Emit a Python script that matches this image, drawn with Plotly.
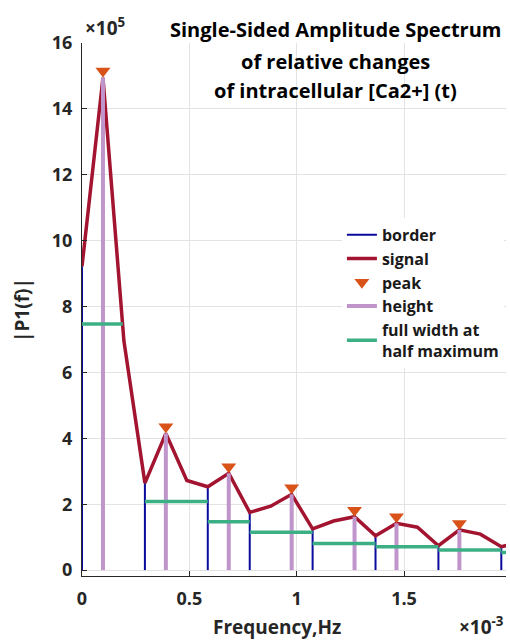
import plotly.graph_objects as go

# ---------------- data ----------------
# frequency bins (units of 1e-3 Hz)
freq = [0.0, 0.0977, 0.1953, 0.2930, 0.3906, 0.4883, 0.5859, 0.6836, 0.7813,
        0.8789, 0.9766, 1.0742, 1.1719, 1.2695, 1.3672, 1.4648, 1.5625,
        1.6602, 1.7578, 1.8555, 1.9531, 2.0508]
# single-sided amplitude |P1(f)| (units of 1e5)
signal = [9.22, 14.95, 6.95, 2.64, 4.15, 2.72, 2.53, 2.94, 1.75, 1.94, 2.30,
          1.25, 1.49, 1.62, 1.04, 1.42, 1.30, 0.74, 1.22, 1.09, 0.71, 0.85]
border_idx = [0, 3, 6, 8, 11, 14, 17, 20]
peak_idx = [1, 4, 7, 10, 13, 15, 18]
fwhm_left = [0.0, 0.2930, 0.5859, 0.7813, 1.0742, 1.3672, 1.6602, 1.9531]
fwhm_right = [0.19, 0.5859, 0.7813, 1.0742, 1.3672, 1.6602, 1.9531, 2.25]
fwhm_level = [7.47, 2.08, 1.47, 1.15, 0.81, 0.71, 0.61, 0.53]

x_range = [0, 1.975]
y_range = [-0.18, 16]

# ---------------- layout geometry ----------------
W, H = 510, 641
M_L, M_R, M_T, M_B = 82, 4, 43, 65
plot_h = H - M_T - M_B
px_per_unit = plot_h / (y_range[1] - y_range[0])

FONT = "'Open Sans', Lato, sans-serif"
C_BORDER = "#0a0a9c"
C_SIGNAL = "#a2142f"
C_PEAK = "#d95319"
C_HEIGHT = "#c095cc"
C_FWHM = "#3caf85"
C_TXT = "#262626"

def segs(xs0, xs1, ys0, ys1):
    X, Y = [], []
    for a, b, c, d in zip(xs0, xs1, ys0, ys1):
        X += [a, b, None]
        Y += [c, d, None]
    return X, Y

fig = go.Figure()

# border lines
bx = [freq[i] for i in border_idx]
by = [signal[i] for i in border_idx]
X, Y = segs(bx, bx, [0] * len(bx), by)
fig.add_trace(go.Scatter(x=X, y=Y, mode="lines", name="border",
                         line=dict(color=C_BORDER, width=2)))

# signal
fig.add_trace(go.Scatter(x=freq, y=signal, mode="lines", name="signal",
                         line=dict(color=C_SIGNAL, width=3.5)))

# peaks (triangle tip touching the peak)
px_ = [freq[i] for i in peak_idx]
py_ = [signal[i] for i in peak_idx]
msize = 13
off = (msize / 2) / px_per_unit
fig.add_trace(go.Scatter(x=px_, y=[v + off for v in py_], mode="markers", name="peak",
                         marker=dict(symbol="triangle-down", size=msize, color=C_PEAK,
                                     line=dict(width=0))))

# heights
X, Y = segs(px_, px_, [0] * len(px_), py_)
fig.add_trace(go.Scatter(x=X, y=Y, mode="lines", name="height",
                         line=dict(color=C_HEIGHT, width=4)))

# FWHM
X, Y = segs(fwhm_left, fwhm_right, fwhm_level, fwhm_level)
fig.add_trace(go.Scatter(x=X, y=Y, mode="lines", name="full width at<br>half maximum",
                         line=dict(color=C_FWHM, width=3.5)))

axis_common = dict(
    showgrid=True, gridcolor="#e3e3e3", gridwidth=1,
    zeroline=False, showline=True, linecolor=C_TXT, linewidth=1,
    ticks="inside", ticklen=5, tickcolor=C_TXT,
    tickfont=dict(family=FONT, size=18, color=C_TXT, weight="bold"),
    mirror=False,
)

fig.update_layout(
    width=W, height=H,
    margin=dict(l=M_L, r=M_R, t=M_T, b=M_B),
    paper_bgcolor="white", plot_bgcolor="white",
    font=dict(family=FONT, color="#1a1a1a"),
    xaxis=dict(range=x_range, tickvals=[0, 0.5, 1, 1.5], ticktext=["0", "0.5", "1", "1.5"],
               ticklabelstandoff=6, **axis_common),
    yaxis=dict(range=y_range, tickvals=list(range(0, 17, 2)), ticklabelstandoff=5,
               **axis_common),
    legend=dict(x=0.613, y=0.672, xanchor="left", yanchor="top",
                bgcolor="white", borderwidth=0,
                font=dict(family=FONT, size=16, color="#1a1a1a", weight="bold"),
                itemwidth=30, tracegroupgap=0),
    showlegend=True,
)

title_lines = ["Single-Sided Amplitude Spectrum", "of relative changes",
               "of intracellular [Ca2+] (t)"]
title_y = [1.025, 0.965, 0.911]
for t, yy in zip(title_lines, title_y):
    fig.add_annotation(text=t, xref="paper", yref="paper", x=0.599, y=yy,
                       xanchor="center", yanchor="middle", showarrow=False,
                       font=dict(family=FONT, size=20, color="black", weight="bold"))

fig.add_annotation(text="Frequency,Hz", xref="paper", yref="paper", x=0.461, y=-0.0965,
                   xanchor="center", yanchor="middle", showarrow=False,
                   font=dict(family=FONT, size=19, color=C_TXT, weight="bold"))
fig.add_annotation(text="|P1(f)|", xref="paper", yref="paper", x=-0.1415, y=0.499,
                   xanchor="center", yanchor="middle", showarrow=False, textangle=-90,
                   font=dict(family=FONT, size=19, color=C_TXT, weight="bold"))
fig.add_annotation(text="×10<sup>5</sup>", xref="paper", yref="paper", x=0.003, y=1.0,
                   xanchor="left", yanchor="bottom", showarrow=False,
                   font=dict(family=FONT, size=19, color=C_TXT, weight="bold"))
fig.add_annotation(text="×10<sup>-3</sup>", xref="paper", yref="paper", x=1.0, y=-0.1235,
                   xanchor="right", yanchor="bottom", showarrow=False,
                   font=dict(family=FONT, size=19, color=C_TXT, weight="bold"))

fig.write_html("out.html", post_script="document.body.style.margin='0px';",
               config={"displayModeBar": False})
